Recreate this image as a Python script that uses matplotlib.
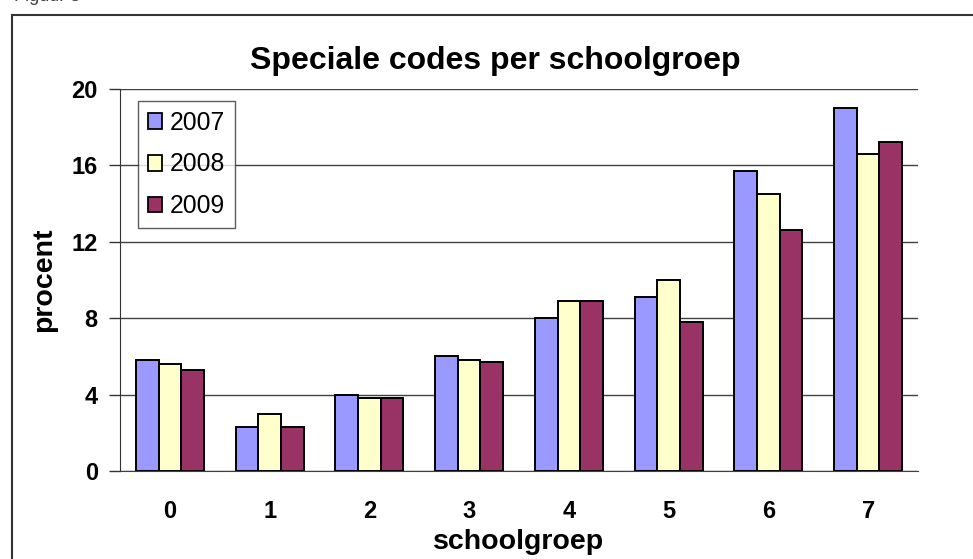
import numpy as np
import matplotlib
matplotlib.use('Agg')
import matplotlib.pyplot as plt
from matplotlib.patches import Patch, Rectangle

plt.rcParams['font.family'] = ['Liberation Sans', 'DejaVu Sans']

# data
groups = ['0', '1', '2', '3', '4', '5', '6', '7']
years = ['2007', '2008', '2009']
v2007 = [5.8, 2.3, 4.0, 6.0, 8.0, 9.1, 15.7, 19.0]
v2008 = [5.6, 3.0, 3.8, 5.8, 8.9, 10.0, 14.5, 16.6]
v2009 = [5.3, 2.3, 3.8, 5.7, 8.9, 7.8, 12.6, 17.2]
colors = ['#9999FF', '#FFFFCC', '#993366']
yticks = [0, 4, 8, 12, 16, 20]

W, H = 973, 559
fig = plt.figure(figsize=(W / 100, H / 100), dpi=100)
ax = fig.add_axes([120 / W, 1 - 471 / H, (918 - 120) / W, (471 - 89) / H])

# outer frame (cut off at right and bottom)
fig.patches.append(Rectangle((12 / W, -0.1), 1.2, 1.1 - 15 / H, transform=fig.transFigure,
                             fill=False, edgecolor='#333333', lw=1.5))
fig.text(14 / W, 1 - 1 / H, 'Figuur 3', fontsize=13, color='#444444', va='baseline')

x = np.arange(len(groups))
bw = 0.227
for i, (vals, c) in enumerate(zip([v2007, v2008, v2009], colors)):
    ax.bar(x + (i - 1) * bw, vals, bw, color=c, edgecolor='black', lw=1.4, zorder=3)

ax.set_xlim(-0.5, len(groups) - 0.5)
ax.set_ylim(0, 20)
ax.set_yticks(yticks)
ax.set_xticks(x)
ax.set_xticklabels(groups)
ax.yaxis.grid(True, color='#404040', lw=1)
ax.set_axisbelow(True)
for s in ['top', 'right']:
    ax.spines[s].set_visible(False)
ax.spines['left'].set_color('#333333')
ax.spines['bottom'].set_color('#404040')
ax.tick_params(axis='y', length=8, width=1, color='#333333', pad=8, labelsize=17)
ax.tick_params(axis='x', length=0, pad=21, labelsize=17)
for lab in ax.get_xticklabels() + ax.get_yticklabels():
    lab.set_fontweight('bold')

ax.set_xlabel('schoolgroep', fontsize=20.5, fontweight='bold', labelpad=4)
ax.set_ylabel('procent', fontsize=20.5, fontweight='bold', labelpad=10)
fig.text(495 / W, 1 - 61 / H, 'Speciale codes per schoolgroep', fontsize=23,
         fontweight='bold', ha='center', va='center')

handles = [Patch(facecolor=c, edgecolor='black', lw=1.3) for c in colors]
leg = ax.legend(handles, years, loc='upper left', bbox_to_anchor=(137.7 / W, 1 - 100.7 / H),
                bbox_transform=fig.transFigure, fontsize=17.8, frameon=True, fancybox=False,
                handlelength=0.6, handleheight=0.6, handletextpad=0.3, labelspacing=0.72,
                borderpad=0.4, borderaxespad=0)
leg.get_frame().set_edgecolor('#333333')
leg.get_frame().set_linewidth(1)

fig.savefig('out.png', dpi=100)
